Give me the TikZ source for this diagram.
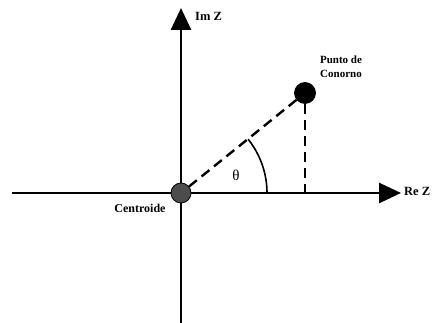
\documentclass[tikz,border=0pt]{standalone}
\usepackage{fontspec}
\setmainfont{Liberation Serif}
\usetikzlibrary{arrows.meta,calc,positioning}

\begin{document}
\begin{tikzpicture}[x=1pt,y=1pt,>={Triangle[length=22pt,width=20pt]},line cap=butt]
  \tikzset{axis/.style={line width=2.8pt,->},
    guide/.style={line width=2.4pt,dash pattern=on 10pt off 6pt},
    dot/.style={circle,draw=black,line width=0.8pt,minimum size=21pt,inner sep=0pt},
    lbl/.style={font=\bfseries\fontsize{12.5}{14}\selectfont,inner sep=1pt},
    small/.style={font=\bfseries\fontsize{11}{14}\selectfont,align=center,inner sep=1pt}}
  \useasboundingbox (0,0) rectangle (436,323);
  % axes
  \coordinate (xl) at (12,130);
  \coordinate (xr) at (401,130);
  \coordinate (yb) at (181,0);
  \coordinate (yt) at (181,315);
  \draw[axis] (xl) -- (xr);
  \draw[axis] (yb) -- (yt);
  \node[lbl,anchor=west] (rez) at (403,132) {Re Z};
  \node[lbl,anchor=west] (imz) at (194,307) {Im Z};
  % points
  \coordinate (foot) at (305,130);
  \node[dot,fill=black] (punto) at (305,230) {};
  \draw[guide] (punto) -- (foot);
  \node[dot,fill=black!70,minimum size=20pt] (centro) at (181,130) {};
  \draw[guide] (centro) -- (punto);
  \node[small] (ptxt) at (341,256) {Punto de\\Conorno};
  \node[small,font=\bfseries\fontsize{12}{14}\selectfont] (ctxt) at (140,115) {Centroide};
  % angle
  \draw[line width=1.6pt] (267,130) arc[start angle=0,end angle=38.7,radius=86];
  \node[font=\fontsize{15}{16}\selectfont] (theta) at (236,148) {θ};
\end{tikzpicture}
\end{document}
